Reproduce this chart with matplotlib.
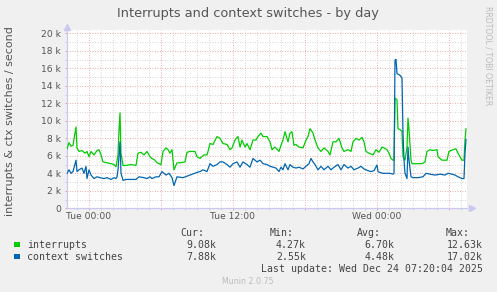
import matplotlib
matplotlib.use('Agg')
import matplotlib.pyplot as plt
from matplotlib.patches import Rectangle
from matplotlib.ticker import FixedLocator, FuncFormatter

# time axis: minutes relative to Tue 00:00, values in thousands per second
int_minutes = [-110, -100, -90, -80, -65, -60, -50, -35, -20, -10, 0, 10, 25, 40, 50, 60, 70, 90, 110, 125,
               135, 140, 145, 150, 155, 160, 170, 185, 210, 235, 245, 260, 275, 290, 305, 315, 330, 340, 360, 370,
               385, 395, 405, 415, 425, 440, 455, 480, 490, 505, 530, 540, 555, 575, 590, 595, 605, 620, 640, 655,
               670, 690, 705, 715, 730, 745, 755, 765, 780, 790, 805, 820, 835, 845, 860, 870, 890, 905, 915, 930,
               950, 960, 970, 980, 995, 1005, 1015, 1025, 1035, 1050, 1070, 1085, 1095, 1105, 1120, 1130, 1145, 1160, 1175, 1195,
               1205, 1220, 1235, 1250, 1265, 1275, 1295, 1310, 1320, 1335, 1350, 1365, 1375, 1385, 1400, 1420, 1435, 1450, 1465, 1475,
               1490, 1500, 1510, 1520, 1525, 1530, 1540, 1545, 1555, 1565, 1570, 1580, 1590, 1595, 1600, 1610, 1615, 1640, 1665, 1680,
               1690, 1705, 1720, 1740, 1745, 1765, 1790, 1800, 1820, 1835, 1845, 1865, 1875, 1880, 1885]
interrupts = [6.8, 7.5, 7.1, 7.2, 9.3, 6.9, 6.5, 6.6, 6.3, 6.5, 5.9, 6.5, 6.1, 6.6, 6.7, 6.1, 5.3, 5.2, 5.1, 5.0,
              4.75, 5.4, 6.1, 8.9, 10.9, 6.3, 4.9, 4.9, 5.0, 4.9, 6.3, 6.4, 6.1, 6.5, 5.9, 5.7, 5.5, 5.2, 5.0, 6.5,
              6.9, 6.7, 6.3, 6.7, 4.4, 5.2, 5.2, 5.3, 6.4, 6.5, 6.5, 5.9, 5.7, 6.1, 6.1, 6.5, 7.4, 7.3, 8.2, 8.0,
              7.4, 7.3, 6.7, 6.9, 7.8, 8.2, 7.0, 7.8, 7.0, 7.4, 6.7, 7.8, 7.8, 8.2, 8.6, 8.2, 8.2, 7.6, 6.7, 7.0,
              6.5, 7.2, 7.8, 8.75, 7.6, 8.6, 8.75, 7.2, 7.3, 7.0, 6.9, 7.8, 8.2, 9.1, 8.6, 7.8, 6.9, 6.5, 6.9, 6.5,
              6.1, 7.6, 7.6, 8.0, 6.9, 6.5, 6.7, 6.5, 7.6, 8.0, 7.8, 8.1, 7.6, 6.5, 6.3, 6.1, 6.7, 6.4, 7.0, 6.9,
              6.7, 6.3, 5.7, 5.5, 5.5, 12.6, 12.4, 9.1, 9.0, 8.8, 5.9, 5.5, 7.0, 10.3, 9.0, 5.5, 5.1, 5.1, 5.1, 5.3,
              6.5, 6.7, 6.6, 6.7, 5.9, 5.5, 5.5, 6.5, 6.7, 6.8, 6.3, 5.5, 5.5, 7.8, 9.08]

ctx_minutes = [-110, -100, -90, -80, -65, -60, -50, -35, -25, -15, -10, 0, 10, 25, 40, 55, 75, 90, 110, 125,
               135, 140, 145, 155, 160, 170, 185, 210, 235, 250, 275, 290, 305, 315, 335, 350, 365, 385, 400, 415,
               425, 440, 470, 505, 540, 555, 570, 590, 605, 620, 640, 655, 670, 690, 705, 720, 740, 755, 770, 790,
               805, 820, 840, 855, 870, 890, 905, 920, 935, 950, 960, 970, 980, 995, 1005, 1020, 1035, 1050, 1070, 1085,
               1100, 1110, 1120, 1130, 1145, 1160, 1175, 1195, 1210, 1225, 1245, 1260, 1275, 1295, 1310, 1325, 1345, 1360, 1375, 1395,
               1410, 1425, 1440, 1445, 1455, 1470, 1490, 1505, 1520, 1525, 1530, 1535, 1540, 1555, 1565, 1570, 1575, 1580, 1590, 1595,
               1600, 1610, 1620, 1645, 1670, 1685, 1705, 1730, 1755, 1780, 1795, 1815, 1830, 1845, 1865, 1875, 1880, 1885]
ctx_switches = [4.0, 4.4, 4.0, 4.2, 5.5, 4.2, 4.4, 4.6, 4.0, 4.8, 3.4, 4.4, 3.8, 3.4, 3.6, 3.5, 3.4, 3.5, 3.3, 3.5,
                3.4, 3.6, 4.4, 7.6, 4.0, 3.2, 3.3, 3.3, 3.3, 3.6, 3.5, 3.4, 3.6, 3.4, 3.6, 3.6, 4.2, 3.8, 4.0, 3.5,
                2.6, 3.6, 3.5, 3.8, 4.1, 4.2, 4.4, 4.2, 5.1, 4.8, 5.0, 5.3, 5.3, 5.0, 4.7, 5.1, 5.3, 4.7, 5.3, 5.0,
                4.7, 5.7, 5.3, 5.5, 5.1, 5.0, 4.8, 4.7, 4.6, 4.2, 4.7, 4.4, 5.1, 4.4, 5.0, 4.7, 4.6, 4.7, 4.5, 4.8,
                5.1, 5.7, 5.3, 5.0, 4.4, 4.8, 4.4, 4.8, 4.4, 4.7, 5.0, 4.4, 5.0, 4.6, 4.8, 4.4, 4.6, 4.8, 4.5, 4.3,
                4.2, 4.3, 4.95, 4.2, 4.1, 4.0, 4.0, 4.0, 3.9, 4.0, 16.95, 17.02, 15.4, 15.2, 14.9, 8.6, 5.5, 4.0, 3.4, 7.0,
                5.5, 3.6, 3.5, 3.5, 3.6, 4.0, 3.9, 3.8, 3.9, 3.8, 4.0, 3.9, 3.8, 3.6, 3.4, 3.4, 6.3, 7.88]

x_tick_pos = [0, 720, 1440]
x_tick_labels = ['Tue 00:00', 'Tue 12:00', 'Wed 00:00']
y_tick_pos = [0, 2, 4, 6, 8, 10, 12, 14, 16, 18, 20]
y_tick_labels = ['0', '2 k', '4 k', '6 k', '8 k', '10 k', '12 k', '14 k', '16 k', '18 k', '20 k']

series_names = ['interrupts', 'context switches']
series_colors = ['#00CC00', '#0066B3']
cur_vals = ['9.08k', '7.88k']
min_vals = ['4.27k', '2.55k']
avg_vals = ['6.70k', '4.48k']
max_vals = ['12.63k', '17.02k']

W, H = 497, 292
fig = plt.figure(figsize=(W / 100, H / 100), dpi=100, facecolor='#F0F0F0')
ax = fig.add_axes([67 / W, 83.7 / H, 400 / W, 178.3 / H])
ax.set_facecolor('white')

ax.plot(int_minutes, interrupts, color=series_colors[0], lw=0.9, zorder=3)
ax.plot(ctx_minutes, ctx_switches, color=series_colors[1], lw=0.9, zorder=3)

ax.set_xlim(-110, 1890)
ax.set_ylim(0, 20.38)

# grid: minor every hour / 1k, major every 6 hours / 2k
ax.xaxis.set_major_locator(FixedLocator(list(range(0, 1890, 360))))
ax.xaxis.set_minor_locator(FixedLocator([m for m in range(-60, 1890, 60) if m % 360]))
ax.xaxis.set_major_formatter(FuncFormatter(
    lambda v, p: x_tick_labels[x_tick_pos.index(int(v))] if int(v) in x_tick_pos else ''))
ax.yaxis.set_major_locator(FixedLocator(y_tick_pos))
ax.yaxis.set_minor_locator(FixedLocator(list(range(1, 20, 2))))
ax.set_yticklabels(y_tick_labels)

ax.grid(which='minor', color='#C8C8C8', ls=(0, (1, 2)), lw=0.6)
ax.grid(which='major', color='#E89090', ls=(0, (1, 2)), lw=0.6)
ax.set_axisbelow(True)
ax.tick_params(which='major', length=1.5, width=0.6, color='#E89090',
               labelsize=6.6, labelcolor='#555555', pad=3)
ax.tick_params(axis='x', which='major', pad=1.5)
ax.tick_params(which='minor', length=1.5, width=0.6, color='#C8C8C8')

for s in ['top', 'right']:
    ax.spines[s].set_visible(False)
for s in ['left', 'bottom']:
    ax.spines[s].set_color('#C8C8F0')
    ax.spines[s].set_linewidth(0.9)
ax.plot([0], [1.015], marker='^', ms=4, color='#C8C8F0', transform=ax.transAxes, clip_on=False)
ax.plot([1.012], [0], marker='>', ms=4, color='#C8C8F0', transform=ax.transAxes, clip_on=False)

def fx(px):
    return px / W

def fy(py):
    return 1 - py / H

fig.text(fx(248), fy(13), 'Interrupts and context switches - by day', ha='center', va='center',
         fontsize=9.3, color='#555555')
fig.text(fx(10), fy(121), 'interrupts & ctx switches / second', rotation=90, ha='center', va='center',
         fontsize=8.0, color='#555555')
fig.text(fx(488), fy(56), 'RRDTOOL / TOBI OETIKER', rotation=270, ha='center', va='center',
         fontsize=5.6, color='#BBBBBB')

# legend
mono = dict(family='DejaVu Sans Mono', fontsize=7.1, color='#444444', va='center')
for hdr, xe in zip(['Cur:', 'Min:', 'Avg:', 'Max:'], [204, 293.3, 381, 470]):
    fig.text(fx(xe), fy(232.7), hdr, ha='right', **mono)
rows = [244.7, 256.7]
for i, name in enumerate(series_names):
    fig.patches.append(Rectangle((fx(14), fy(rows[i] + 2.7)), 5.5 / W, 5.5 / H, transform=fig.transFigure,
                                 facecolor=series_colors[i], edgecolor='none'))
    fig.text(fx(26.7), fy(rows[i]), name, ha='left', **mono)
    for vals, xe in zip([cur_vals, min_vals, avg_vals, max_vals], [216.7, 306, 394.3, 482.7]):
        fig.text(fx(xe), fy(rows[i]), vals[i], ha='right', **mono)
fig.text(fx(482.7), fy(268.7), 'Last update: Wed Dec 24 07:20:04 2025', ha='right', **mono)
fig.text(fx(248), fy(281), 'Munin 2.0.75', ha='center', va='center', fontsize=5.7, color='#BBBBBB')

fig.savefig('out.png', dpi=100, facecolor=fig.get_facecolor())
